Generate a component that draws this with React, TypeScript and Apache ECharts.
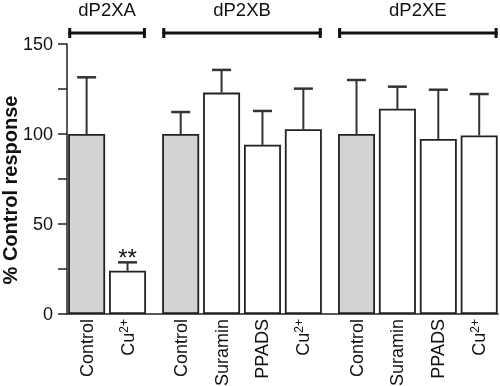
import React, { useEffect, useRef } from "react";
import * as echarts from "echarts";

const groups = ["dP2XA", "dP2XB", "dP2XE"];
const categories = ["Control", "Cu2+", "Control", "Suramin", "PPADS", "Cu2+", "Control", "Suramin", "PPADS", "Cu2+"];
const groupOfBar = [0, 0, 1, 1, 1, 1, 2, 2, 2, 2];
const means = [100, 24, 100, 123, 94, 102.6, 100, 114, 97.2, 99.2];
const sem = [31.5, 4.7, 12.2, 12.6, 18.8, 22.6, 30, 12.3, 27.4, 23];
const significance = ["", "**", "", "", "", "", "", "", "", ""];
const yTicks = [0, 50, 100, 150];

const FONT = 'Arial, "Liberation Sans", sans-serif';
const GROUP_GAP = 0.3;

export default function App() {
  const ref = useRef<HTMLDivElement>(null);
  useEffect(() => {
    if (!ref.current) return;
    const chart = echarts.init(ref.current, undefined, { renderer: "svg" });
    const pos = categories.map((_, i) => i + GROUP_GAP * groupOfBar[i]);
    const labelFor = (v: number) => {
      const i = pos.findIndex((p) => Math.abs(p - v) < 0.01);
      if (i < 0) return "";
      const c = categories[i];
      return c === "Cu2+" ? "Cu{sup|2+}" : c;
    };
    const brackets = groups.map((g, gi) => {
      const idx = pos.filter((_, i) => groupOfBar[i] === gi);
      return [idx[0] - 0.45, idx[idx.length - 1] + 0.45, gi];
    });
    chart.setOption({
      animation: false,
      grid: { left: 67, right: 2, top: 44, height: 270, containLabel: false, outerBoundsMode: "none" },
      xAxis: {
        type: "value",
        min: -0.48,
        max: 10.06,
        splitLine: { show: false },
        axisTick: { show: false },
        axisLine: { onZero: false, lineStyle: { color: "#222", width: 1.5 } },
        axisLabel: {
          customValues: pos,
          rotate: 90,
          margin: 5,
          color: "#111",
          fontFamily: FONT,
          fontSize: 18,
          formatter: labelFor,
          rich: { sup: { fontSize: 12, fontFamily: FONT, color: "#111", verticalAlign: "top", padding: [0, 0, 8, 0] } },
        },
      },
      yAxis: {
        type: "value",
        min: 0,
        max: 150,
        interval: 25,
        splitLine: { show: false },
        axisLine: { show: true, onZero: false, lineStyle: { color: "#222", width: 1.5 } },
        axisTick: { show: true, length: 9, lineStyle: { color: "#222", width: 1.5 } },
        axisLabel: {
          margin: 14,
          color: "#111",
          fontFamily: FONT,
          fontSize: 18,
          formatter: (v: number) => (yTicks.includes(v) ? String(v) : ""),
        },
      },
      graphic: [
        {
          type: "text",
          x: 10,
          y: 190,
          rotation: Math.PI / 2,
          style: {
            text: "% Control response",
            fontFamily: FONT,
            fontWeight: "bold",
            fontSize: 20,
            fill: "#111",
            align: "center",
            verticalAlign: "middle",
          },
        },
      ],
      series: [
        {
          type: "bar",
          barWidth: 37,
          data: means.map((m, i) => ({
            value: [pos[i], m],
            itemStyle: {
              color: categories[i] === "Control" ? "#d3d3d3" : "#ffffff",
              borderColor: "#222",
              borderWidth: 1.8,
            },
          })),
        },
        {
          type: "custom",
          clip: false,
          data: means.map((m, i) => [pos[i], m, sem[i], i]),
          renderItem: (params: any, api: any) => {
            const x = api.value(0);
            const m = api.value(1);
            const s = api.value(2);
            const i = api.value(3);
            const p0 = api.coord([x, m]);
            const p1 = api.coord([x, m + s]);
            const children: any[] = [
              { type: "line", shape: { x1: p0[0], y1: p0[1], x2: p1[0], y2: p1[1] }, style: { stroke: "#333", lineWidth: 2 } },
              { type: "line", shape: { x1: p1[0] - 9.5, y1: p1[1], x2: p1[0] + 9.5, y2: p1[1] }, style: { stroke: "#333", lineWidth: 2.5 } },
            ];
            if (significance[i]) {
              children.push({
                type: "text",
                x: p1[0],
                y: p1[1] - 5,
                style: { text: significance[i], fontFamily: FONT, fontSize: 24, fill: "#111", align: "center", verticalAlign: "middle" },
              });
            }
            return { type: "group", children };
          },
        },
        {
          type: "custom",
          clip: false,
          data: brackets,
          renderItem: (params: any, api: any) => {
            const a = api.coord([api.value(0), 150]);
            const b = api.coord([api.value(1), 150]);
            const gi = api.value(2);
            const y = a[1] - 11;
            return {
              type: "group",
              children: [
                { type: "line", shape: { x1: a[0], y1: y, x2: b[0], y2: y }, style: { stroke: "#111", lineWidth: 3 } },
                { type: "line", shape: { x1: a[0] + 1.5, y1: y - 5, x2: a[0] + 1.5, y2: y + 5 }, style: { stroke: "#111", lineWidth: 3 } },
                { type: "line", shape: { x1: b[0] - 1.5, y1: y - 5, x2: b[0] - 1.5, y2: y + 5 }, style: { stroke: "#111", lineWidth: 3 } },
                {
                  type: "text",
                  x: (a[0] + b[0]) / 2,
                  y: 9,
                  style: { text: groups[gi], fontFamily: FONT, fontSize: 18.5, fill: "#111", align: "center", verticalAlign: "middle" },
                },
              ],
            };
          },
        },
      ],
    });
    return () => chart.dispose();
  }, []);
  return <div ref={ref} style={{ position: "fixed", left: 0, top: 0, width: 500, height: 386 }} />;
}
